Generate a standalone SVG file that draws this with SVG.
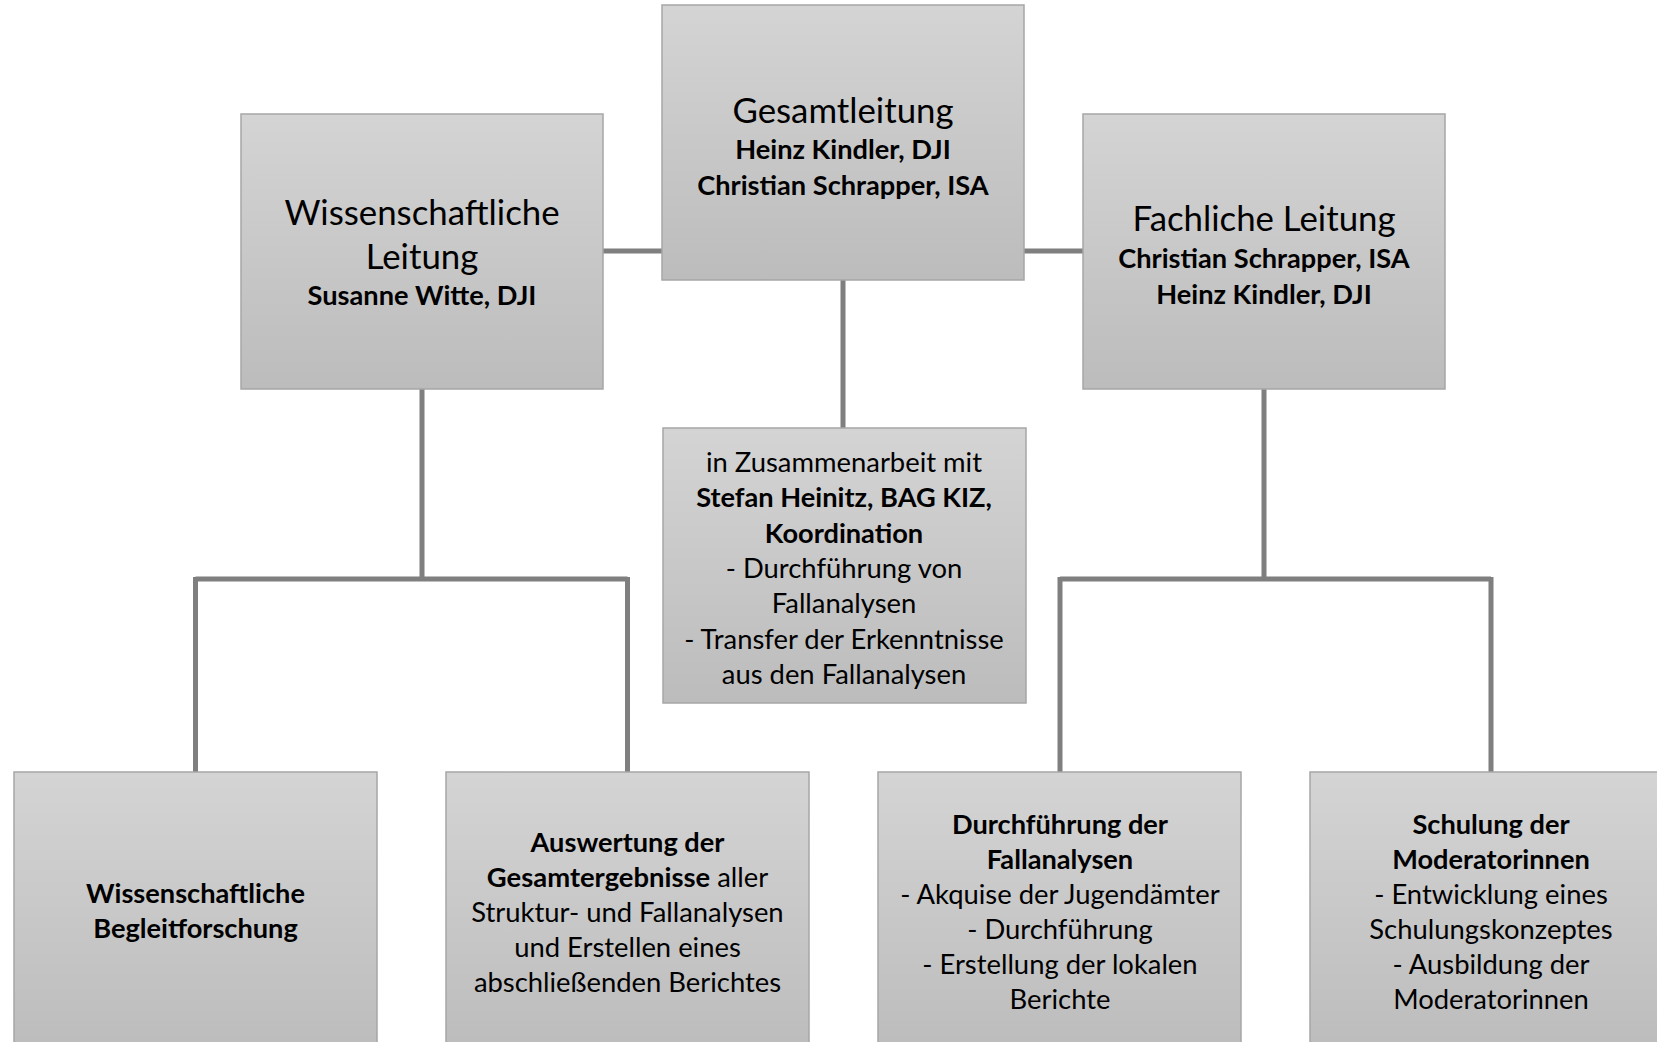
<svg xmlns="http://www.w3.org/2000/svg" width="1657" height="1042" viewBox="0 0 1657 1042">
<defs>
<linearGradient id="g" x1="0" y1="0" x2="0" y2="1">
<stop offset="0" stop-color="#d4d4d4"/>
<stop offset="1" stop-color="#bcbcbc"/>
</linearGradient>
</defs>
<style>
.box{fill:url(#g);stroke:#a6a6a6;stroke-width:1.5}
.c{fill:none;stroke:#7f7f7f;stroke-width:5}
text{font-family:Lato,"Open Sans",sans-serif;fill:#000;text-anchor:middle}
.t{font-size:34.8px}
.b{font-size:27.2px;font-weight:bold}
.r{font-size:27.4px}
.bb{font-weight:bold}
</style>
<rect width="1657" height="1042" fill="#fff"/>
<g id="connectors">
<path class="c" d="M603 251H662M1024 251H1083M843 280V428"/>
<path class="c" d="M422 389V579M195.5 579H627.5M195.5 577V772M627.5 577V772"/>
<path class="c" d="M1264 389V579M1060 579H1491M1060 577V772M1491 577V772"/>
</g>
<g id="n-gesamt">
<rect class="box" x="662" y="5" width="362" height="275"/>
<text class="t" x="843" y="122.5">Gesamtleitung</text>
<text class="b" x="843" y="158.5">Heinz Kindler, DJI</text>
<text class="b" x="843" y="194.5">Christian Schrapper, ISA</text>
</g>
<g id="n-wiss">
<rect class="box" x="241" y="114" width="362" height="275"/>
<text class="t" x="422" y="224.5">Wissenschaftliche</text>
<text class="t" x="422" y="268.5">Leitung</text>
<text class="b" x="422" y="304.5">Susanne Witte, DJI</text>
</g>
<g id="n-fach">
<rect class="box" x="1083" y="114" width="362" height="275"/>
<text class="t" x="1264" y="231">Fachliche Leitung</text>
<text class="b" x="1264" y="267.5">Christian Schrapper, ISA</text>
<text class="b" x="1264" y="303.5">Heinz Kindler, DJI</text>
</g>
<g id="n-koord">
<rect class="box" x="663" y="428" width="363" height="275"/>
<text class="r" x="844" y="471.5">in Zusammenarbeit mit</text>
<text class="b" x="844" y="506.5">Stefan Heinitz, BAG KIZ,</text>
<text class="b" x="844" y="542.5">Koordination</text>
<text class="r" x="844" y="577.5">- Durchführung von</text>
<text class="r" x="844" y="612.5">Fallanalysen</text>
<text class="r" x="844" y="648.5">- Transfer der Erkenntnisse</text>
<text class="r" x="844" y="683.5">aus den Fallanalysen</text>
</g>
<g id="n-begleit">
<rect class="box" x="14" y="772" width="363" height="280"/>
<text class="b" x="195.5" y="902.5">Wissenschaftliche</text>
<text class="b" x="195.5" y="937.5">Begleitforschung</text>
</g>
<g id="n-auswertung">
<rect class="box" x="446" y="772" width="363" height="280"/>
<text class="b" x="627.5" y="851.5">Auswertung der</text>
<text class="r" x="627.5" y="886.5"><tspan class="bb">Gesamtergebnisse</tspan> aller</text>
<text class="r" x="627.5" y="921.5">Struktur- und Fallanalysen</text>
<text class="r" x="627.5" y="956.5">und Erstellen eines</text>
<text class="r" x="627.5" y="991.5">abschließenden Berichtes</text>
</g>
<g id="n-durchf">
<rect class="box" x="878" y="772" width="363" height="280"/>
<text class="b" x="1060" y="833.5">Durchführung der</text>
<text class="b" x="1060" y="868.5">Fallanalysen</text>
<text class="r" x="1060" y="903.5">- Akquise der Jugendämter</text>
<text class="r" x="1060" y="938.5">- Durchführung</text>
<text class="r" x="1060" y="973.5">- Erstellung der lokalen</text>
<text class="r" x="1060" y="1008.5">Berichte</text>
</g>
<g id="n-schulung">
<rect class="box" x="1310" y="772" width="363" height="280"/>
<text class="b" x="1491" y="833.5">Schulung der</text>
<text class="b" x="1491" y="868.5">Moderatorinnen</text>
<text class="r" x="1491" y="903.5">- Entwicklung eines</text>
<text class="r" x="1491" y="938.5">Schulungskonzeptes</text>
<text class="r" x="1491" y="973.5">- Ausbildung der</text>
<text class="r" x="1491" y="1008.5">Moderatorinnen</text>
</g>
</svg>
